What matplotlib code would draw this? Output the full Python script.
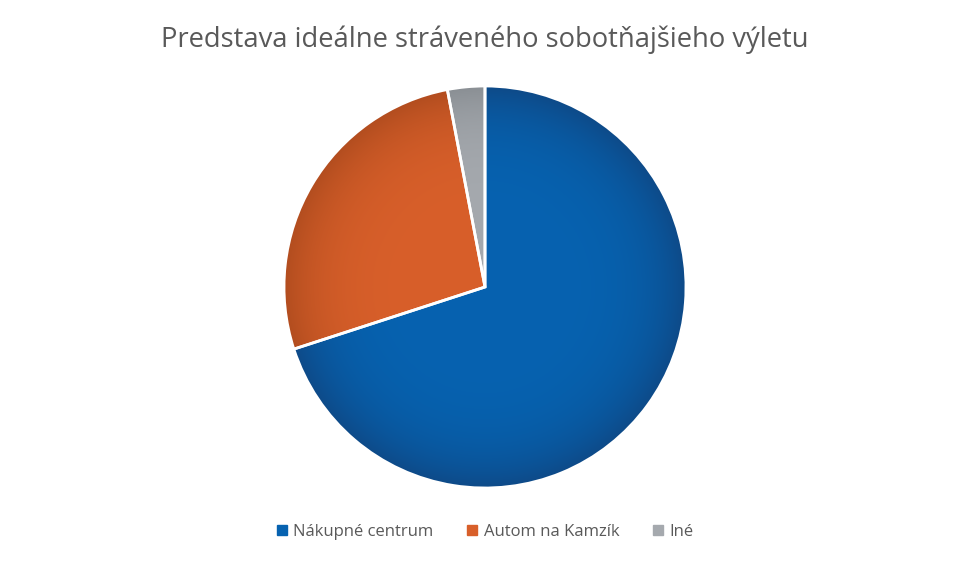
import numpy as np
import matplotlib
matplotlib.use("Agg")
import matplotlib.pyplot as plt
from matplotlib.colors import to_rgb

# Data
labels = ["Nákupné centrum", "Autom na Kamzík", "Iné"]
values = [70, 27, 3]
colors = ["#0662B0", "#D85F2A", "#A5A9AE"]
edge_colors = ["#0E4A88", "#B24D1F", "#8A8F94"]
title = "Predstava ideálne stráveného sobotňajšieho výletu"

W, H = 970, 565
fig = plt.figure(figsize=(W / 100, H / 100), dpi=100)
fig.patch.set_facecolor("white")

cx, cy, r = 485, 287, 201
ax = fig.add_axes([(cx - r) / W, (H - cy - r) / H, 2 * r / W, 2 * r / H])

wedges, _ = ax.pie(values, colors=colors, startangle=90, counterclock=False,
                   radius=1.0, wedgeprops=dict(edgecolor="white", linewidth=2))

# radial shading inside each wedge, darker only near the rim
n = 400
xs = np.linspace(-1, 1, n)
X, Y = np.meshgrid(xs, xs)
R = np.clip(np.sqrt(X ** 2 + Y ** 2), 0, 1)
t = (R ** 5)[..., None]
for w, c_in, c_out in zip(wedges, colors, edge_colors):
    a = np.array(to_rgb(c_in))
    b = np.array(to_rgb(c_out))
    img = a * (1 - t) + b * t
    im = ax.imshow(img, extent=(-1, 1, -1, 1), origin="lower", zorder=1.5)
    im.set_clip_path(w)
    w.set_facecolor("none")
    w.set_zorder(2)

ax.set_xlim(-1.0, 1.0)
ax.set_ylim(-1.0, 1.0)
ax.set_aspect("equal")
ax.axis("off")

fig.text(0.5, 1 - 40 / H, title, ha="center", va="center",
         fontsize=19.7, color="#595959", family="Open Sans")

handles = [plt.Rectangle((0, 0), 1, 1, color=c) for c in colors]
fig.legend(handles, labels, loc="center", bbox_to_anchor=(0.5, 1 - 532 / H),
           ncol=3, frameon=False, handlelength=0.6, handleheight=0.6,
           handletextpad=0.4, columnspacing=2.0, labelcolor="#595959",
           prop=dict(family="Open Sans", size=12))

fig.savefig("out.png", dpi=100, facecolor="white")
